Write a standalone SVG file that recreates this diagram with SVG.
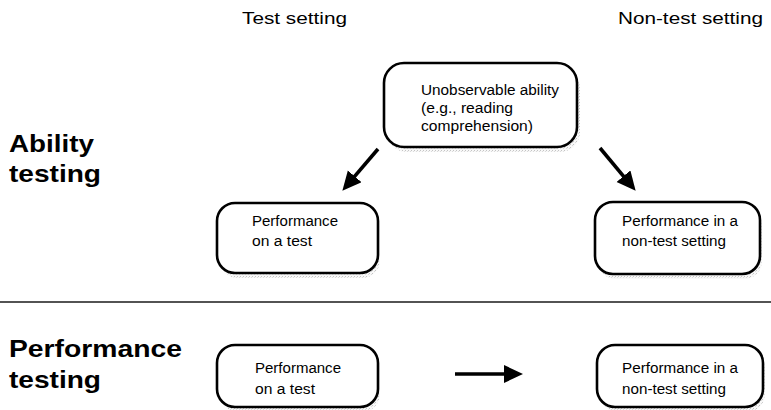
<svg xmlns="http://www.w3.org/2000/svg" width="771" height="410" viewBox="0 0 771 410">
  <style>
    .box { fill: #fff; stroke: #000; stroke-width: 2.6; }
    .shadow { fill: url(#grain); }
    .head { font-family: "Liberation Sans", Arial, sans-serif; font-size: 16.5px; fill: #000; }
    .label { font-family: "Liberation Sans", Arial, sans-serif; font-size: 24.5px; font-weight: bold; fill: #000; }
    .txt { font-family: "Liberation Sans", Arial, sans-serif; font-size: 14px; fill: #000; }
    .arrow { stroke: #000; stroke-width: 3.6; fill: none; marker-end: url(#tip); }
    .rule { stroke: #1a1a1a; stroke-width: 1.6; }
  </style>
  <defs>
    <pattern id="grain" width="3" height="3" patternUnits="userSpaceOnUse">
      <rect width="3" height="3" fill="#f8f8f8"/>
      <rect x="0" y="0" width="1" height="1" fill="#c4c4c4"/>
      <rect x="2" y="1" width="1" height="1" fill="#dcdcdc"/>
    </pattern>
    <marker id="tip" markerUnits="userSpaceOnUse" markerWidth="21" markerHeight="19" refX="8" refY="9" orient="auto">
      <path d="M0,0 L19,9 L0,18 Z" fill="#000"/>
    </marker>
  </defs>

  <rect width="771" height="410" fill="#fff"/>

  <!-- column headings -->
  <text class="head" x="242" y="24" textLength="105" lengthAdjust="spacingAndGlyphs">Test setting</text>
  <text class="head" x="618" y="24" textLength="145" lengthAdjust="spacingAndGlyphs">Non-test setting</text>

  <!-- row labels -->
  <text class="label" x="9" y="152" textLength="85" lengthAdjust="spacingAndGlyphs">Ability</text>
  <text class="label" x="9" y="182" textLength="92" lengthAdjust="spacingAndGlyphs">testing</text>
  <text class="label" x="9" y="357" textLength="173" lengthAdjust="spacingAndGlyphs">Performance</text>
  <text class="label" x="9" y="388" textLength="92" lengthAdjust="spacingAndGlyphs">testing</text>

  <!-- divider between the two rows -->
  <line class="rule" x1="0" y1="302" x2="771" y2="302"/>

  <g id="ability">
    <rect class="shadow" x="387" y="69" width="193" height="83" rx="20"/>
    <rect class="box" x="384" y="63" width="193" height="84" rx="20"/>
    <text class="txt" x="421" y="95" textLength="138" lengthAdjust="spacingAndGlyphs">Unobservable ability</text>
    <text class="txt" x="421" y="113" textLength="92" lengthAdjust="spacingAndGlyphs">(e.g., reading</text>
    <text class="txt" x="421" y="131" textLength="112" lengthAdjust="spacingAndGlyphs">comprehension)</text>
  </g>

  <g id="test-performance">
    <rect class="shadow" x="220" y="209" width="160" height="69" rx="18"/>
    <rect class="box" x="217" y="203" width="161" height="70" rx="18"/>
    <text class="txt" x="252" y="226" textLength="86" lengthAdjust="spacingAndGlyphs">Performance</text>
    <text class="txt" x="252" y="246" textLength="60" lengthAdjust="spacingAndGlyphs">on a test</text>
  </g>

  <g id="nontest-performance">
    <rect class="shadow" x="598" y="208" width="164" height="71" rx="18"/>
    <rect class="box" x="595" y="202" width="165" height="72" rx="18"/>
    <text class="txt" x="622" y="226" textLength="116" lengthAdjust="spacingAndGlyphs">Performance in a</text>
    <text class="txt" x="622" y="246" textLength="104" lengthAdjust="spacingAndGlyphs">non-test setting</text>
  </g>

  <g id="test-performance-2">
    <rect class="shadow" x="220" y="351" width="160" height="61" rx="18"/>
    <rect class="box" x="217" y="345" width="161" height="62" rx="18"/>
    <text class="txt" x="255" y="373" textLength="86" lengthAdjust="spacingAndGlyphs">Performance</text>
    <text class="txt" x="255" y="394" textLength="60" lengthAdjust="spacingAndGlyphs">on a test</text>
  </g>

  <g id="nontest-performance-2">
    <rect class="shadow" x="600" y="351" width="165" height="61" rx="18"/>
    <rect class="box" x="597" y="345" width="166" height="62" rx="18"/>
    <text class="txt" x="622" y="373" textLength="116" lengthAdjust="spacingAndGlyphs">Performance in a</text>
    <text class="txt" x="622" y="394" textLength="104" lengthAdjust="spacingAndGlyphs">non-test setting</text>
  </g>

  <g id="connectors">
    <line class="arrow" x1="378" y1="149" x2="349.5" y2="182.4"/>
    <line class="arrow" x1="600" y1="148" x2="628.6" y2="182.3"/>
    <line class="arrow" x1="455" y1="374" x2="512" y2="374"/>
  </g>
</svg>
